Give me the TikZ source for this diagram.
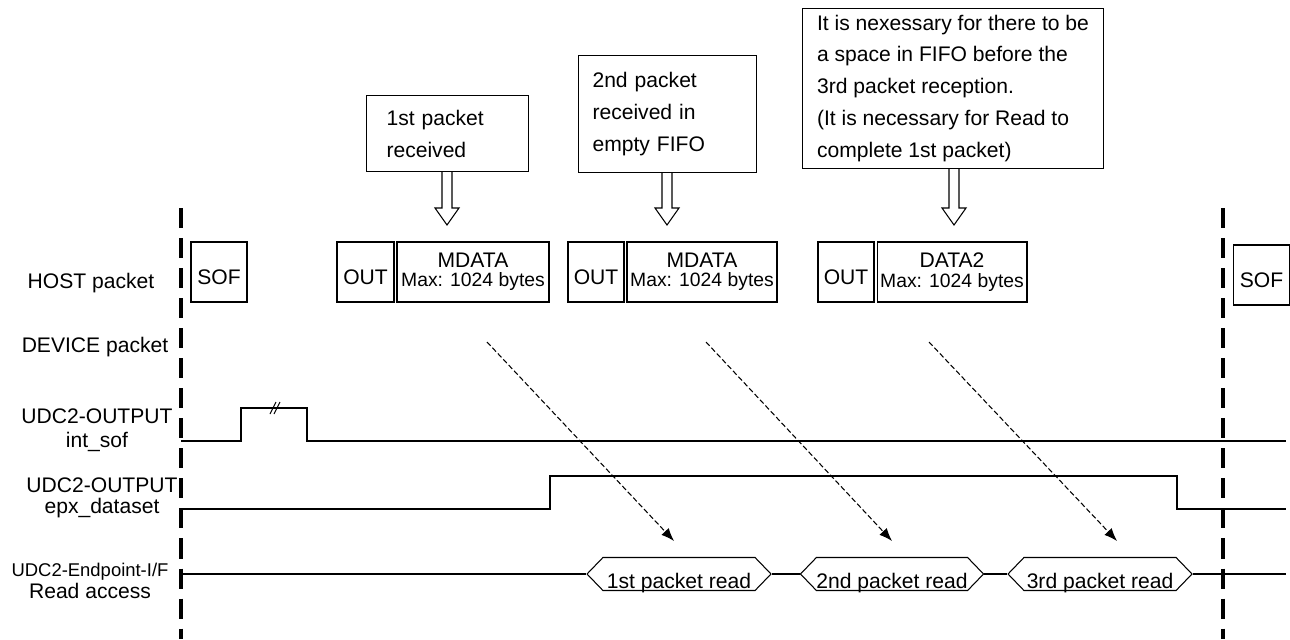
\documentclass[tikz,border=0pt]{standalone}
\usepackage{fontspec}
\setmainfont{Liberation Sans}
\usetikzlibrary{arrows.meta, shapes.symbols}

\tikzset{
  pkt/.style={draw, line width=0.6pt, minimum height=1.2cm, inner sep=0pt, align=center, font=\fontsize{12}{11}\selectfont},
  pktone/.style={pkt, text height=14pt, text depth=0pt},
  note/.style={draw, line width=0.6pt, anchor=north west, align=left, inner ysep=0pt, font=\fontsize{12}{18.2}\selectfont},
  lbl/.style={align=center, font=\fontsize{12}{13.6}\selectfont},
  wave/.style={line width=0.6pt},
  rdpkt/.style={draw, line width=0.6pt, shape=signal, signal to=east and west, signal pointer angle=92,
    minimum width=3.68cm, minimum height=0.66cm, inner sep=0pt, text height=16pt, text depth=0pt,
    font=\fontsize{12}{12}\selectfont},
  frame/.style={line width=2.4pt, dash pattern=on 11.4pt off 5.7pt},
  flow/.style={line width=0.6pt, dash pattern=on 3pt off 1.5pt, -{Latex[length=0.26cm, width=0.2cm]}}
}

\begin{document}
\begin{tikzpicture}[x=0.02cm, y=-0.02cm]
    \useasboundingbox (0,0) rectangle (1290,639);

    % row labels
    \node[lbl] (lhost) at (91,283) {HOST packet};
    \node[lbl] (ldev) at (95,347) {DEVICE packet};
    \node[lbl] (lsof) at (97,430) {UDC2-OUTPUT\\int\_sof};
    \node[lbl, font=\fontsize{12}{12}\selectfont] (lset) at (102,498) {UDC2-OUTPUT\\epx\_dataset};
    \node[lbl, font=\fontsize{12}{12.4}\selectfont] (lrd) at (90,581) {{\fontsize{10.5}{12}\selectfont UDC2-Endpoint-I/F}\\Read access};

    % frame boundaries
    \draw[frame] (181,208) -- (181,639);
    \draw[frame] (1223,208) -- (1223,639);

    % host packets
    \node[pktone, minimum width=1.12cm] (sofA) at (219,272) {SOF};
    \node[pktone, minimum width=1.14cm] (outA) at (365.5,272) {OUT};
    \node[pkt, minimum width=3.04cm] (datA) at (473,272) {MDATA\\{\fontsize{11}{11}\selectfont Max: 1024 bytes}};
    \node[pktone, minimum width=1.12cm] (outB) at (596,272) {OUT};
    \node[pkt, minimum width=3.0cm] (datB) at (702,272) {MDATA\\{\fontsize{11}{11}\selectfont Max: 1024 bytes}};
    \node[pktone, minimum width=1.12cm] (outC) at (846,272) {OUT};
    \node[pkt, minimum width=3.0cm] (datC) at (952,272) {DATA2\\{\fontsize{11}{11}\selectfont Max: 1024 bytes}};
    \node[pktone, minimum width=1.14cm] (sofB) at (1261.5,275) {SOF};

    % notes
    \node[note, inner xsep=0.4cm, text width=2.44cm, minimum height=1.52cm] (noteA) at (366,95) {1st packet\\received};
    \node[note, inner xsep=0.28cm, text width=3.0cm, minimum height=2.34cm] (noteB) at (578,55) {2nd packet\\received in\\empty FIFO};
    \node[note, minimum width=6.02cm, minimum height=3.2cm] (noteC) at (802,8)
        {It is nexessary for there to be\\a space in FIFO before the\\3rd packet reception.\\(It is necessary for Read to\\complete 1st packet)};

    \foreach \ax/\ay in {447/171, 667/172, 954/168}
        \draw[line width=0.6pt] (\ax-5,\ay) -- (\ax-5,208) -- (\ax-12,208) -- (\ax,225)
            -- (\ax+12,208) -- (\ax+5,208) -- (\ax+5,\ay);

    % waveforms
    \draw[wave] (181,441) -- (241,441) -- (241,408) -- (307,408) -- (307,441) -- (1286,441);
    \draw[wave] (270,414) -- (276,402) (274,414) -- (280,402);
    \draw[wave] (181,509) -- (550,509) -- (550,476) -- (1177,476) -- (1177,509) -- (1286,509);

    \node[rdpkt] (rdA) at (679,574) {1st packet read};
    \node[rdpkt, minimum width=3.64cm] (rdB) at (892,574) {2nd packet read};
    \node[rdpkt] (rdC) at (1100,574) {3rd packet read};
    \draw[wave] (181,574) -- (rdA.west);
    \draw[wave] (rdA.east) -- (rdB.west);
    \draw[wave] (rdB.east) -- (rdC.west);
    \draw[wave] (rdC.east) -- (1286,574);

    % data transfer
    \foreach \i/\sx/\ex in {1/487/674, 2/706/892, 3/929/1117}
    {
        \coordinate (rx\i) at (\sx,342);
        \coordinate (ry\i) at (\ex,541);
        \draw[flow] (rx\i) -- (ry\i);
    }
\end{tikzpicture}
\end{document}
